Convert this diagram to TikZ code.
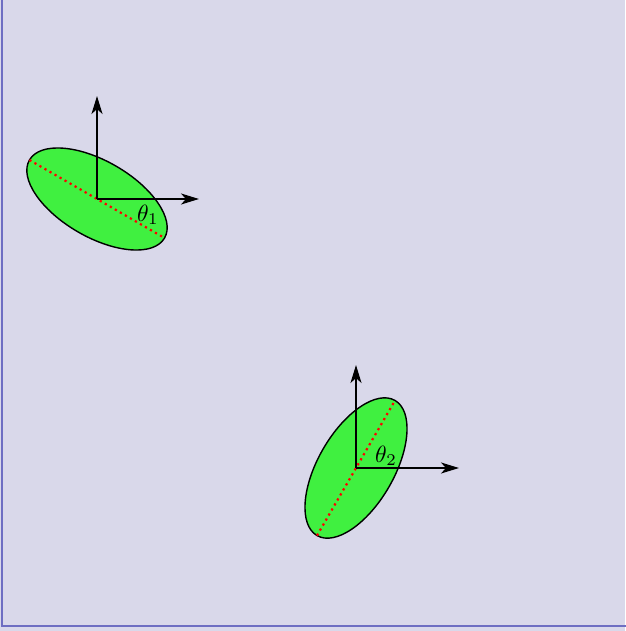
\documentclass[tikz,border=0pt]{standalone}
\usetikzlibrary{arrows.meta}
\definecolor{bg}{HTML}{D9D8EA}
\definecolor{frame}{HTML}{6E6EC2}
\definecolor{blob}{HTML}{40F040}
\begin{document}
\begin{tikzpicture}[x=1pt,y=-1pt,
  axis/.style={line width=1.9pt,-{Stealth[length=18pt,width=11pt,inset=5pt]}},
  blobshape/.style={fill=blob,draw=black,line width=1.4pt},
  majoraxis/.style={red,line width=2.2pt,dash pattern=on 2.2pt off 3.6pt},
  anglelabel/.style={inner sep=0pt}]
\useasboundingbox (0,0) rectangle (625,631);
\fill[bg] (0,0) rectangle (625,631);
\draw[frame,line width=1.4pt] (2,-5) -- (2,626) -- (630,626);
% first ellipse
\coordinate (c1) at (97,199);
\coordinate (u1) at (97,96);
\coordinate (r1) at (199,199);
\draw[blobshape,rotate around={-30:(c1)}] (c1) ellipse [x radius=78,y radius=38];
\path[rotate around={-30:(c1)}] (c1) ++(-78,0) coordinate (a1) (c1) ++(78,0) coordinate (b1);
\draw[majoraxis] (a1) -- (b1);
\draw[axis] (c1) -- (u1);
\draw[axis] (c1) -- (r1);
\node[anglelabel] (t1) at (148,215) {\scalebox{2.35}{$\theta_1$}};
% second ellipse
\coordinate (c2) at (356,468);
\coordinate (u2) at (356,365);
\coordinate (r2) at (459,468);
\draw[blobshape,rotate around={60:(c2)}] (c2) ellipse [x radius=78,y radius=38];
\path[rotate around={60:(c2)}] (c2) ++(-78,0) coordinate (a2) (c2) ++(78,0) coordinate (b2);
\draw[majoraxis] (a2) -- (b2);
\draw[axis] (c2) -- (u2);
\draw[axis] (c2) -- (r2);
\node[anglelabel] (t2) at (386,456) {\scalebox{2.35}{$\theta_2$}};
\end{tikzpicture}
\end{document}
